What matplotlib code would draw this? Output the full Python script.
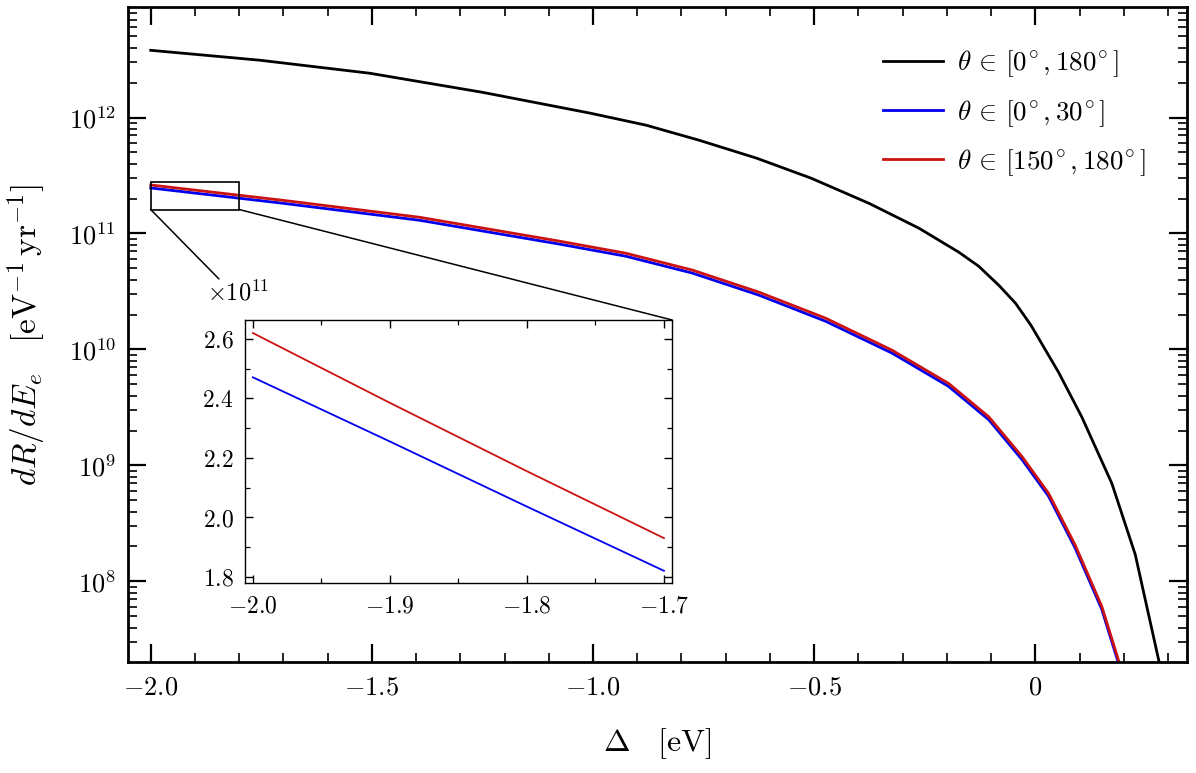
import math

import matplotlib
matplotlib.use("Agg")
import matplotlib.pyplot as plt
from matplotlib.patches import Rectangle, ConnectionPatch
from matplotlib.ticker import FixedLocator, FuncFormatter, LogLocator, MultipleLocator, NullFormatter

plt.rcParams["mathtext.fontset"] = "cm"
plt.rcParams["font.family"] = "serif"
plt.rcParams["font.serif"] = ["DejaVu Serif"]

# main panel, values
delta_all = [-2.0, -1.753, -1.505, -1.25, -1.006, -0.88, -0.76, -0.63, -0.507, -0.376,
             -0.263, -0.173, -0.128, -0.082, -0.045, -0.010, 0.053, 0.105, 0.173, 0.226,
             0.279, 0.290]
rate_all = [3.80e12, 3.12e12, 2.41e12, 1.65e12, 1.09e12, 8.59e11, 6.37e11, 4.46e11, 3.00e11, 1.82e11,
            1.11e11, 6.90e10, 5.22e10, 3.56e10, 2.51e10, 1.62e10, 6.31e9, 2.62e9, 7.0e8, 1.70e8,
            2.09e7, 1.26e7]

delta_cone = [-2.0, -1.7, -1.392, -1.076, -0.926, -0.775, -0.625, -0.474, -0.324,
              -0.196, -0.105, -0.030, 0.030, 0.090, 0.150, 0.188, 0.199]
rate_forward = [2.47e11, 1.82e11, 1.30e11, 8.10e10, 6.37e10, 4.55e10, 2.94e10, 1.75e10, 9.30e9,
                4.80e9, 2.47e9, 1.12e9, 5.41e8, 1.94e8, 5.77e7, 1.97e7, 1.08e7]
rate_backward = [2.62e11, 1.93e11, 1.38e11, 8.59e10, 6.76e10, 4.83e10, 3.12e10, 1.86e10, 9.86e9,
                 5.09e9, 2.62e9, 1.19e9, 5.74e8, 2.06e8, 6.12e7, 2.09e7, 1.15e7]

# inset, in units of 1e11
inset_delta = [-2.0, -1.9, -1.8, -1.7]
inset_forward = [2.471, 2.255, 2.036, 1.820]
inset_backward = [2.620, 2.385, 2.155, 1.930]

DEG = r"^{\hspace{-0.15}\circ}"
labels = [r"$\theta\,\in\,[0%s, 180%s]$" % (DEG, DEG),
          r"$\theta\,\in\,[0%s, 30%s]$" % (DEG, DEG),
          r"$\theta\,\in\,[150%s, 180%s]$" % (DEG, DEG)]

zoom_x = (-2.0, -1.8)
zoom_y = (1.61e11, 2.79e11)

RED = "#cc1111"
BLUE = "#0000ee"


def tick_text(v):
    if abs(v) < 1e-9:
        return r"$0$"
    return r"$%.1f$" % v


fig = plt.figure(figsize=(11.96, 7.73), dpi=100)
ax = fig.add_axes([0.1073, 0.144, 0.8852, 0.8466])

ax.plot(delta_all, rate_all, color="k", lw=2.0, label=labels[0])
ax.plot(delta_cone, rate_forward, color=BLUE, lw=2.0, label=labels[1])
ax.plot(delta_cone, rate_backward, color=RED, lw=2.0, label=labels[2])

ax.set_yscale("log")
ax.set_xlim(-2.0506, 0.343)
ax.set_ylim(2.03e7, 8.93e12)

ax.yaxis.set_major_locator(FixedLocator([1e8, 1e9, 1e10, 1e11, 1e12]))
ax.yaxis.set_major_formatter(FuncFormatter(lambda v, p: r"$10^{%d}$" % round(math.log10(v))))
ax.yaxis.set_minor_locator(LogLocator(base=10, subs=range(2, 10), numticks=20))
ax.yaxis.set_minor_formatter(NullFormatter())

ax.xaxis.set_major_locator(FixedLocator([-2.0, -1.5, -1.0, -0.5, 0.0]))
ax.xaxis.set_major_formatter(FuncFormatter(lambda v, p: tick_text(v)))
ax.xaxis.set_minor_locator(MultipleLocator(0.1))

ax.tick_params(which="both", direction="in", top=True, right=True, labelsize=19)
ax.tick_params(which="major", length=13, width=1.6, pad=9)
ax.tick_params(which="minor", length=6.5, width=1.2)
for s in ax.spines.values():
    s.set_linewidth(2.0)

ax.set_xlabel(r"$\Delta\quad[\mathrm{eV}]$", fontsize=23)
ax.xaxis.set_label_coords(0.5, -0.098)
ax.set_ylabel(r"$dR/dE_e\quad[\mathrm{eV}^{-1}\,\mathrm{yr}^{-1}]$", fontsize=24)
ax.yaxis.set_label_coords(-0.076, 0.5)

ax.legend(loc="upper left", bbox_to_anchor=(0.7383, 0.937), bbox_transform=fig.transFigure,
          frameon=False, fontsize=19.5, handlelength=2.2, handletextpad=0.55,
          labelspacing=0.68, borderpad=0, borderaxespad=0)

ax.add_patch(Rectangle((zoom_x[0], zoom_y[0]), zoom_x[1] - zoom_x[0], zoom_y[1] - zoom_y[0],
                       fill=False, ec="k", lw=1.2, zorder=5))

# inset
axin = fig.add_axes([0.2048, 0.2458, 0.3570, 0.3403])
axin.plot(inset_delta, inset_forward, color=BLUE, lw=1.3)
axin.plot(inset_delta, inset_backward, color=RED, lw=1.3)
axin.set_xlim(-2.0058, -1.6942)
axin.set_ylim(1.779, 2.664)
axin.xaxis.set_major_locator(FixedLocator([-2.0, -1.9, -1.8, -1.7]))
axin.xaxis.set_minor_locator(MultipleLocator(0.05))
axin.yaxis.set_major_locator(FixedLocator([1.8, 2.0, 2.2, 2.4, 2.6]))
axin.yaxis.set_minor_locator(MultipleLocator(0.1))
axin.xaxis.set_major_formatter(FuncFormatter(lambda v, p: tick_text(v)))
axin.yaxis.set_major_formatter(FuncFormatter(lambda v, p: tick_text(v)))
axin.tick_params(which="both", direction="in", top=True, right=True, labelsize=17)
axin.tick_params(which="major", length=6, width=1.0, pad=8)
axin.tick_params(which="minor", length=3.5, width=0.9)
for s in axin.spines.values():
    s.set_linewidth(1.0)
axin.text(-0.09, 1.105, r"$\times10^{11}$", transform=axin.transAxes,
          fontsize=17.5, ha="left", va="center")

con1 = ConnectionPatch(xyA=(zoom_x[1], zoom_y[0]), coordsA=ax.transData,
                       xyB=(1, 1), coordsB=axin.transAxes, color="k", lw=1.1)
con2 = ConnectionPatch(xyA=(zoom_x[0], zoom_y[0]), coordsA=ax.transData,
                       xyB=(-0.061, 1.156), coordsB=axin.transAxes, color="k", lw=1.1)
fig.add_artist(con1)
fig.add_artist(con2)

fig.savefig("out.png", dpi=100)
